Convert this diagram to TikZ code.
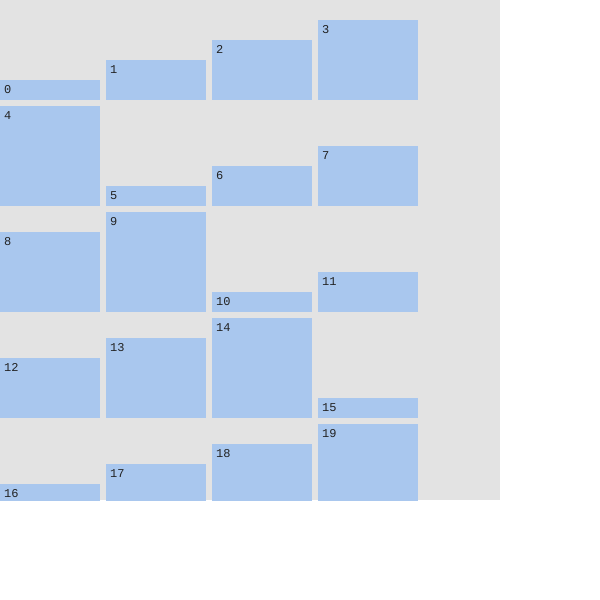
\documentclass[tikz,border=0pt]{standalone}
\usepackage{fontspec}
\setmonofont{Liberation Mono}
\definecolor{tilefill}{HTML}{A9C7EE}
\definecolor{bggray}{HTML}{E3E3E3}
\definecolor{numgray}{HTML}{222222}

\begin{document}
\begin{tikzpicture}[x=1pt, y=-1pt,
  tile/.style={fill=tilefill, inner sep=0pt, minimum width=100pt, anchor=south west},
  num/.style={font=\ttfamily\fontsize{12}{12}\selectfont, text=numgray, anchor=base west, inner sep=0pt},
]
\useasboundingbox (0,0) rectangle (600,600);
\fill[bggray] (0,0) rectangle (500,500);

% --- tiles, 4 per row, bottom aligned, clipped to the panel ---
\begin{scope}
\clip (0,0) rectangle (500,500);
\foreach \i in {0,...,19} {
  \pgfmathtruncatemacro{\tcol}{mod(\i,4)}
  \pgfmathtruncatemacro{\trow}{div(\i,4)}
  \pgfmathtruncatemacro{\tileh}{20*(mod(\i,5)+1)}
  \node[tile, minimum height=\tileh pt] (b\i) at (106*\tcol, 100+106*\trow) {};
  \node[num] (t\i) at ([xshift=4pt, yshift=-13.5pt]b\i.north west) {\i};
}
\end{scope}

\end{tikzpicture}
\end{document}
